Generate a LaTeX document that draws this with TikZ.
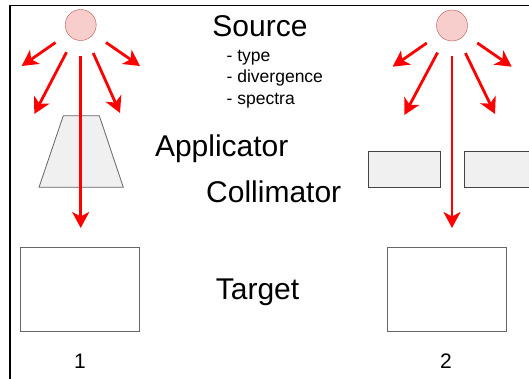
\documentclass[tikz,border=0pt]{standalone}
\usepackage{fontspec}
\setmainfont{Liberation Sans}
\usetikzlibrary{arrows.meta}
\definecolor{srcfill}{HTML}{F8CECC}
\definecolor{srcline}{HTML}{B85450}
\definecolor{partfill}{HTML}{F0F0F0}
\definecolor{partline}{HTML}{666666}
\definecolor{colline}{HTML}{444444}

\begin{document}
\begin{tikzpicture}[x=1pt, y=-1pt,
    source/.style = {draw=srcline, fill=srcfill, circle, minimum size=31pt, inner sep=0pt},
    ray/.style = {draw=red, line width=2.8pt, shorten <=15pt, -{Stealth[length=16pt, width=17pt, inset=4.5pt]}},
    collim/.style = {draw=colline, fill=partfill, line width=0.8pt, rectangle, minimum width=72pt, minimum height=36pt, inner sep=0pt},
    target/.style = {draw=partline, fill=white, line width=0.8pt, rectangle, minimum width=118.6pt, minimum height=84.4pt, inner sep=0pt},
    big/.style = {font=\fontsize{30}{36}\selectfont, inner sep=0pt},
    small/.style = {font=\fontsize{17.5}{21}\selectfont, inner sep=0pt}]
      \useasboundingbox (0,0) rectangle (529,379);
      \fill [white] (0,0) rectangle (529,379);
      \draw [line width=1.6pt] (10,379) -- (10,5.5) -- (529,5.5);

      \draw [draw=partline, fill=partfill, line width=0.8pt] (63.3,115.7) -- (99.3,115.7) -- (123.3,187.3) -- (39,187.3) -- cycle;
      \node [collim] (col1) at (404.5,169.2) {};
      \node [collim] (col2) at (500.5,169.2) {};
      \node [target] (tgt1) at (80,289.5) {};
      \node [target] (tgt2) at (447,289.5) {};

      \node [source] (src1) at (80.7,25) {};
      \node [source] (src2) at (452,25.5) {};

      \foreach \n/\x/\y in {e11/21.7/66, e12/34.3/114, e13/80.7/228, e14/120/113, e15/140/66,
                            e21/392.7/66.7, e22/404.3/115, e23/452/228, e24/495/114, e25/511.7/66.7}
               {
                 \coordinate (\n) at (\x,\y);
               }
      \foreach \s/\e in {src1/e11, src1/e12, src1/e13, src1/e14, src1/e15,
                         src2/e21, src2/e22, src2/e23, src2/e24, src2/e25}
               {
                 \draw [ray] (\s) -- (\e);
               }

      \node [big, anchor=base] (src) at (260,36.7) {Source};
      \node [small, anchor=base west] (p1) at (226.5,61.7) {- type};
      \node [small, anchor=base west] (p2) at (226.5,83) {- divergence};
      \node [small, anchor=base west] (p3) at (226.5,104.3) {- spectra};
      \node [big, anchor=base] (app) at (221.7,156.7) {Applicator};
      \node [big, anchor=base] (col) at (273.7,202.3) {Collimator};
      \node [big, anchor=base] (tgt) at (257.5,299.3) {Target};
      \node [font=\fontsize{21}{25}\selectfont, inner sep=0pt, anchor=base] (n1) at (80,368.3) {1};
      \node [font=\fontsize{21}{25}\selectfont, inner sep=0pt, anchor=base] (n2) at (446,368.3) {2};
\end{tikzpicture}
\end{document}
